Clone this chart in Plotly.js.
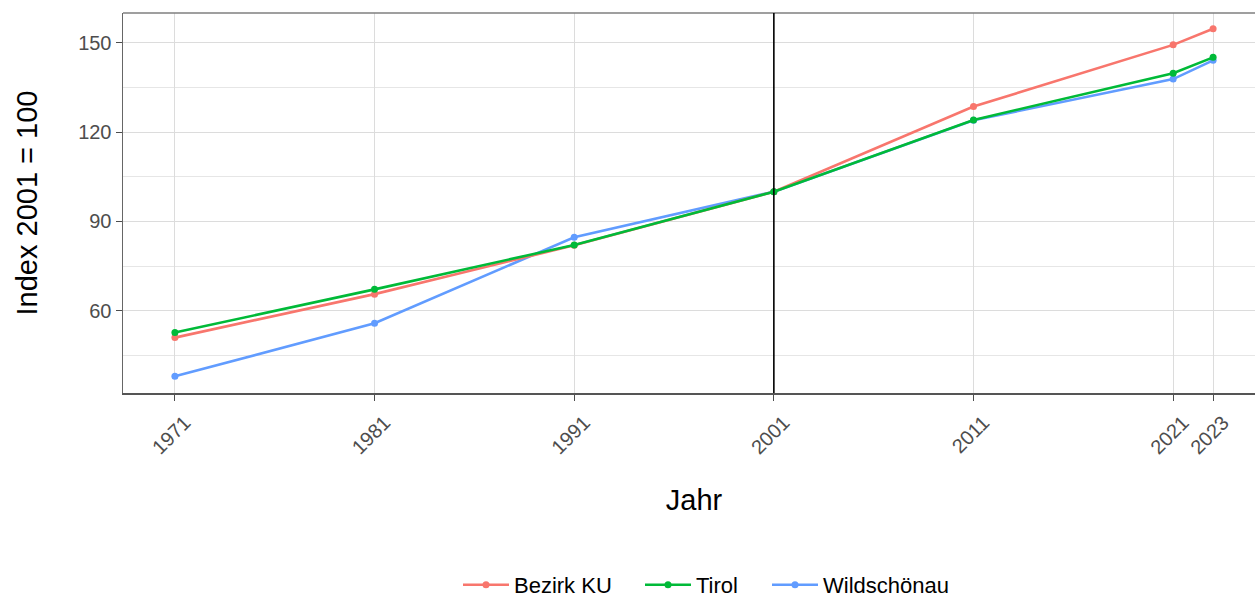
<!DOCTYPE html>
<html>
<head>
<meta charset="utf-8">
<script src="https://cdn.plot.ly/plotly-3.0.1.min.js"></script>
<style>
html, body { margin: 0; padding: 0; overflow: hidden; background: #fff; }
#chart { width: 1275px; height: 598px; }
</style>
</head>
<body>
<div id="chart"></div>
<script>
const years = [1971, 1981, 1991, 2001, 2011, 2021, 2023];
const yearLabels = ["1971", "1981", "1991", "2001", "2011", "2021", "2023"];
const bezirkKU = [51.0, 65.6, 82.0, 100, 128.6, 149.3, 154.7];
const tirol = [52.7, 67.2, 82.1, 100, 124.1, 139.8, 145.1];
const wildschoenau = [38.0, 55.8, 84.7, 100, 124.0, 137.8, 144.1];
const seriesNames = ["Bezirk KU", "Tirol", "Wildschönau"];
const seriesColors = ["#F8766D", "#00BA38", "#619CFF"];
const refYear = 2001;

function mk(name, y, color, legendId) {
  return {
    x: years, y: y, name: name, type: "scatter", mode: "lines+markers",
    line: { color: color, width: 2.6 },
    marker: { color: color, size: 7 },
    legend: legendId
  };
}

const traces = [
  mk(seriesNames[2], wildschoenau, seriesColors[2], "legend3"),
  mk(seriesNames[0], bezirkKU, seriesColors[0], "legend"),
  mk(seriesNames[1], tirol, seriesColors[1], "legend2")
];

const W = 1275, H = 598;
function leg(textX) {
  return {
    orientation: "h", xref: "container", yref: "container",
    x: (textX - 56) / W, xanchor: "left", y: 13 / H, yanchor: "middle",
    font: { size: 22, color: "#000" }, itemwidth: 46,
    bgcolor: "rgba(0,0,0,0)"
  };
}

const layout = {
  width: W, height: H,
  margin: { l: 123, r: 10, t: 13, b: 205, autoexpand: false },
  paper_bgcolor: "#fff", plot_bgcolor: "#fff",
  font: { family: "Liberation Sans, Arial, sans-serif", color: "#4d4d4d", size: 20 },
  showlegend: true,
  legend: leg(514),
  legend2: leg(696),
  legend3: leg(823),
  xaxis: {
    range: [1968.4, 2025.6], automargin: false,
    tickmode: "array", tickvals: years, ticktext: yearLabels,
    tickangle: -45, ticks: "outside", ticklen: 6, tickcolor: "#4d4d4d",
    ticklabelshift: 10, ticklabelstandoff: 2,
    tickfont: { size: 20, color: "#4d4d4d" },
    showgrid: true, gridcolor: "#dcdcdc", gridwidth: 1,
    zeroline: false, showline: true, linecolor: "#555", linewidth: 2,
    title: { text: "Jahr", font: { size: 29, color: "#000" }, standoff: 32 }
  },
  yaxis: {
    range: [32.4, 160], automargin: false,
    tickmode: "array", tickvals: [60, 90, 120, 150],
    ticks: "outside", ticklen: 6, tickcolor: "#4d4d4d",
    tickfont: { size: 20, color: "#4d4d4d" },
    showgrid: true, gridcolor: "#dcdcdc", gridwidth: 1,
    minor: { tickvals: [45, 75, 105, 135], showgrid: true, gridcolor: "#e6e6e6", gridwidth: 1, ticks: "" },
    zeroline: false, showline: true, linecolor: "#666", linewidth: 1.5,
    title: { text: "Index 2001 = 100", font: { size: 29, color: "#000" }, standoff: 32 }
  },
  shapes: [
    { type: "line", xref: "paper", yref: "paper", x0: 0, x1: 1, y0: 1, y1: 1,
      line: { color: "#7f7f7f", width: 1.5 } },
    { type: "line", xref: "x", yref: "paper", x0: refYear, x1: refYear, y0: 0, y1: 1,
      line: { color: "#000", width: 1.6 }, layer: "above" }
  ]
};

Plotly.newPlot("chart", traces, layout, { displayModeBar: false, staticPlot: true });
</script>
</body>
</html>
